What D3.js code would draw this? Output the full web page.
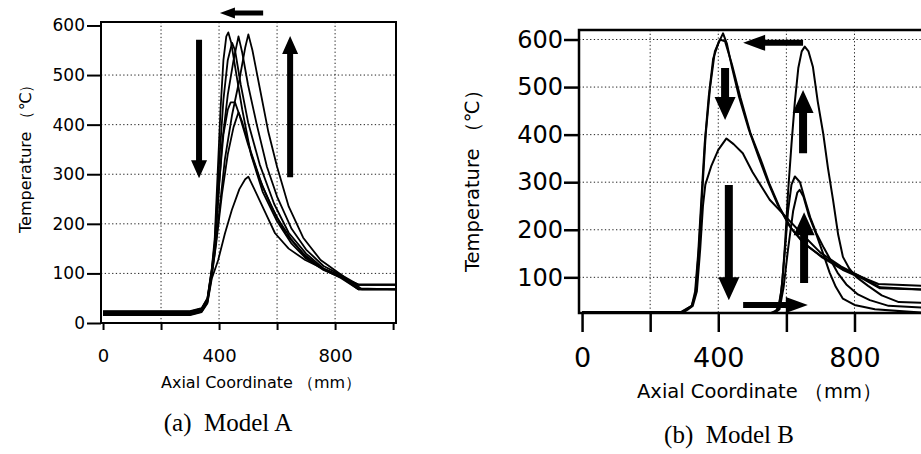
<!DOCTYPE html>
<html>
<head>
<meta charset="utf-8">
<script src="https://cdn.jsdelivr.net/npm/d3@7"></script>
<style>
  body { margin: 0; background: #fff; }
  svg { display: block; }
</style>
</head>
<body>
<svg id="drawing_region"></svg>
<script>
// ---- values: [axial coordinate (mm), temperature (C)] ----
const xTicks = [0, 200, 400, 600, 800, 1000];
const xTickLabels = [0, 400, 800];
const yTicksA = [0, 100, 200, 300, 400, 500, 600];
const yTicksB = [100, 200, 300, 400, 500, 600];
const gridX = [200, 400, 600, 800];
const gridYA = [100, 200, 300, 400, 500];
const gridYB = [100, 200, 300, 400, 500, 600];

// Model A
const a1 = [[0,24],[300,24],[340,30],[360,50],[375,110],[385,170],[395,300],[405,430],[415,530],[425,578],[432,586],[442,565],[460,500],[480,430],[510,340],[550,265],[600,205],[650,160],[700,130],[760,107],[820,92],[880,78],[1010,78]];
const a2 = [[0,22],[300,22],[340,28],[360,48],[375,105],[385,150],[395,230],[410,360],[430,460],[450,530],[467,578],[480,545],[500,480],[530,400],[565,315],[600,255],[650,190],[700,148],[760,115],[820,97],[880,77],[1010,77]];
const a3 = [[0,20],[300,20],[340,26],[360,46],[375,100],[385,140],[400,220],[420,330],[445,420],[470,490],[490,555],[501,582],[515,550],[540,475],[570,385],[600,315],[640,235],[690,172],[750,127],[820,98],[880,70],[1010,68]];
const a4 = [[0,18],[300,18],[340,24],[360,44],[375,100],[385,150],[400,280],[415,380],[430,430],[440,445],[455,445],[470,420],[500,360],[540,290],[580,235],[630,180],[690,140],[750,112],[820,93],[880,68],[1010,68]];
const a5 = [[0,17],[300,17],[340,23],[360,42],[375,95],[390,160],[410,260],[430,340],[450,395],[467,425],[480,405],[510,345],[550,275],[600,212],[650,168],[700,133],[760,108],[820,91],[880,68],[1010,68]];
const a6 = [[0,16],[300,16],[340,22],[360,40],[375,90],[390,115],[397,127],[420,180],[444,228],[470,270],[490,290],[501,295],[520,272],[560,222],[593,181],[640,150],[697,127],[750,112],[800,100],[860,82],[892,68],[1010,68]];
const a7 = [[0,23],[300,23],[340,29],[360,49],[375,108],[385,160],[400,320],[415,450],[430,530],[445,565],[455,550],[475,480],[500,405],[540,320],[590,240],[640,182],[700,140],[760,110],[820,93],[880,77],[1010,77]];

// Model B
const b1 = [[0,27],[290,27],[305,33],[322,40],[332,70],[341,150],[350,260],[360,380],[372,480],[385,560],[400,592],[414,613],[425,592],[440,542],[460,482],[490,410],[520,350],[545,302],[575,252],[610,207],[650,172],[700,146],[760,121],[820,101],[870,86],[1010,82]];
const b2 = [[0,26],[290,26],[305,32],[322,40],[333,65],[343,160],[353,280],[363,400],[376,500],[390,575],[405,600],[420,596],[440,548],[465,478],[495,402],[525,347],[550,297],[580,247],[615,202],[655,170],[705,142],[765,116],[825,97],[875,77],[1010,74]];
const b3 = [[0,25],[295,25],[310,32],[325,40],[337,70],[347,160],[355,250],[362,295],[380,335],[400,368],[424,392],[445,380],[472,361],[500,322],[551,263],[600,226],[650,188],[700,152],[760,123],[820,101],[875,79],[1010,74]];
const b4 = [[0,25],[555,25],[570,30],[580,45],[588,90],[596,170],[605,280],[615,380],[625,470],[635,540],[645,575],[654,585],[665,575],[678,542],[692,470],[708,403],[722,330],[737,263],[752,190],[766,143],[785,118],[805,101],[840,82],[880,62],[930,48],[1010,46]];
const b5 = [[0,25],[560,25],[575,33],[585,70],[595,150],[605,240],[615,295],[625,312],[640,300],[655,262],[670,226],[688,193],[710,162],[727,140],[750,110],[776,85],[810,64],[845,52],[900,40],[1010,36]];
const b6 = [[0,25],[565,25],[580,33],[592,80],[605,160],[620,240],[632,278],[639,284],[650,270],[665,232],[688,190],[708,150],[727,110],[745,80],[766,55],[800,42],[860,33],[1010,25]];

// arrows in data units: [x1, t1, x2, t2] (tail -> tip)
const arrowsA = [[552,625,403,625],[331,571,331,292],[645,294,645,579]];
const arrowsB = [[649,593,473,593],[420,540,420,431],[431,294,431,52],[649,361,649,494],[652,88,652,237],[473,42,663,42]];

const svg = d3.select('#drawing_region')
    .attr('width', 921)
    .attr('height', 454);

svg.append('rect').attr('width', 921).attr('height', 454).attr('fill', '#fff');

class TempChart {

    constructor( config, series, arrows ) {
        this.config = config;
        this.series = series;
        this.arrows = arrows;
        this.init();
    }

    init() {
        let self = this;
        const c = self.config;

        self.chart = svg.append('g');

        self.xscale = d3.scaleLinear()
            .domain( c.xdomain )
            .range( [c.left, c.right] );

        self.yscale = d3.scaleLinear()
            .domain( c.ydomain )
            .range( [c.bottom, c.top] );

        self.line = d3.line()
            .x( d => self.xscale( d[0] ) )
            .y( d => self.yscale( d[1] ) );
    }

    render() {
        let self = this;
        const c = self.config;

        // dotted grid
        self.chart.selectAll('.gx')
            .data(gridX)
            .enter()
            .append('line')
            .attr('x1', d => self.xscale(d)).attr('x2', d => self.xscale(d))
            .attr('y1', c.top).attr('y2', c.bottom)
            .attr('stroke', '#222').attr('stroke-width', 1)
            .attr('stroke-dasharray', '1.3,2.4');

        self.chart.selectAll('.gy')
            .data(c.gridY)
            .enter()
            .append('line')
            .attr('x1', c.left).attr('x2', c.right)
            .attr('y1', d => self.yscale(d)).attr('y2', d => self.yscale(d))
            .attr('stroke', '#222').attr('stroke-width', 1)
            .attr('stroke-dasharray', '1.3,2.4');

        // curves
        self.chart.selectAll('.curve')
            .data(self.series)
            .enter()
            .append('path')
            .attr('d', d => self.line(d))
            .attr('fill', 'none')
            .attr('stroke', '#000')
            .attr('stroke-width', c.lineWidth)
            .attr('stroke-linejoin', 'round');

        // frame
        self.chart.append('rect')
            .attr('x', c.left).attr('y', c.top)
            .attr('width', c.right - c.left).attr('height', c.bottom - c.top)
            .attr('fill', 'none').attr('stroke', '#000')
            .attr('stroke-width', c.frameWidth);

        // axes
        const yaxis = d3.axisLeft( self.yscale )
            .tickValues( c.yticks )
            .tickSize( c.ytickSize )
            .tickPadding( c.ytickPad );

        const xaxis = d3.axisBottom( self.xscale )
            .tickValues( xTicks )
            .tickSize( c.xtickSize )
            .tickPadding( c.xtickPad )
            .tickFormat( d => xTickLabels.includes(d) ? d : '' );

        const yg = self.chart.append('g')
            .attr('transform', `translate(${c.left}, 0)`)
            .call( yaxis );
        yg.select('.domain').remove();
        yg.selectAll('line').attr('stroke', '#000').attr('stroke-width', c.tickWidth);
        yg.selectAll('text')
            .attr('fill', '#000')
            .style('font-family', 'DejaVu Sans')
            .style('font-size', c.yfont + 'px');

        const xg = self.chart.append('g')
            .attr('transform', `translate(0, ${c.bottom})`)
            .call( xaxis );
        xg.select('.domain').remove();
        xg.selectAll('line').attr('stroke', '#000').attr('stroke-width', c.tickWidth);
        xg.selectAll('text')
            .attr('fill', '#000')
            .style('font-family', 'DejaVu Sans')
            .style('font-size', c.xfont + 'px');

        // arrows
        self.chart.selectAll('.arrow')
            .data(self.arrows)
            .enter()
            .append('polygon')
            .attr('points', d => {
                const horiz = d[1] === d[3];
                const s = horiz ? c.harrow : c.varrow;
                return arrowPoints(
                    self.xscale(d[0]), self.yscale(d[1]),
                    self.xscale(d[2]), self.yscale(d[3]), s
                );
            })
            .attr('fill', '#000');

        // titles
        self.chart.append('text')
            .attr('x', c.xtitle[0]).attr('y', c.xtitle[1])
            .style('font-family', 'DejaVu Sans')
            .style('font-size', c.titleFont + 'px')
            .text('Axial Coordinate （mm）');

        self.chart.append('text')
            .attr('transform', `translate(${c.ytitle[0]}, ${c.ytitle[1]}) rotate(-90)`)
            .style('font-family', 'DejaVu Sans')
            .style('font-size', c.titleFont + 'px')
            .text('Temperature （℃）');

        self.chart.append('text')
            .attr('x', c.caption[0]).attr('y', c.caption[1])
            .attr('text-anchor', 'middle')
            .style('font-family', 'Liberation Serif')
            .style('font-size', '25px')
            .style('white-space', 'pre')
            .text(c.captionText);
    }
}

function arrowPoints( x1, y1, x2, y2, s ) {
    const dx = x2 - x1, dy = y2 - y1;
    const len = Math.sqrt(dx * dx + dy * dy);
    const ux = dx / len, uy = dy / len;
    const nx = -uy, ny = ux;
    const bx = x2 - ux * s.len, by = y2 - uy * s.len;
    const p = [
        [x1 + nx * s.shaft / 2, y1 + ny * s.shaft / 2],
        [bx + nx * s.shaft / 2, by + ny * s.shaft / 2],
        [bx + nx * s.head / 2, by + ny * s.head / 2],
        [x2, y2],
        [bx - nx * s.head / 2, by - ny * s.head / 2],
        [bx - nx * s.shaft / 2, by - ny * s.shaft / 2],
        [x1 - nx * s.shaft / 2, y1 - ny * s.shaft / 2]
    ];
    return p.map(q => q.join(',')).join(' ');
}

const chartA = new TempChart({
    left: 101, right: 396, top: 22, bottom: 323,
    xdomain: [-7, 1010], ydomain: [0, 607],
    yticks: yTicksA, gridY: gridYA,
    lineWidth: 1.8, frameWidth: 2, tickWidth: 2,
    ytickSize: 14, ytickPad: 2, xtickSize: 7, xtickPad: 19,
    yfont: 17, xfont: 18, titleFont: 16,
    varrow: {shaft: 6, head: 16, len: 18},
    harrow: {shaft: 5, head: 11, len: 15},
    xtitle: [161, 388], ytitle: [31, 233],
    caption: [228, 431], captionText: '(a)  Model A'
}, [a1, a2, a3, a4, a5, a6, a7], arrowsA);
chartA.render();

const chartB = new TempChart({
    left: 579, right: 926, top: 30, bottom: 313,
    xdomain: [-9, 1010], ydomain: [25, 620],
    yticks: yTicksB, gridY: gridYB,
    lineWidth: 2, frameWidth: 2.5, tickWidth: 2.5,
    ytickSize: 15, ytickPad: 1, xtickSize: 19, xtickPad: 16,
    yfont: 24, xfont: 27, titleFont: 19.5,
    varrow: {shaft: 8, head: 21, len: 23},
    harrow: {shaft: 6, head: 16, len: 22},
    xtitle: [637, 398], ytitle: [479, 272],
    caption: [729, 443], captionText: '(b)  Model B'
}, [b1, b2, b3, b4, b5, b6], arrowsB);
chartB.render();
</script>
</body>
</html>
